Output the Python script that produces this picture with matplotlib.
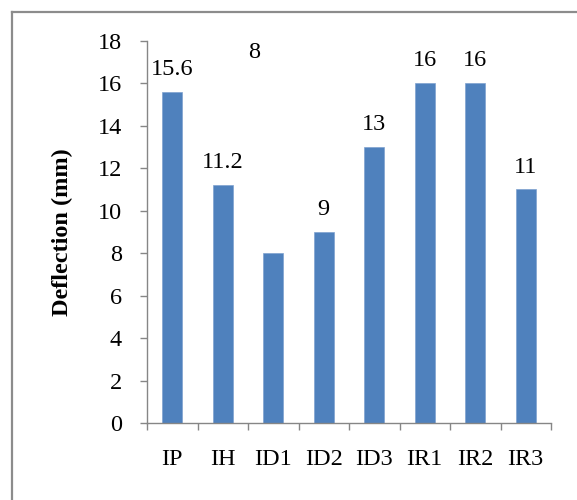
import matplotlib
matplotlib.use("Agg")
import matplotlib.pyplot as plt

categories = ["IP", "IH", "ID1", "ID2", "ID3", "IR1", "IR2", "IR3"]
deflection = [15.6, 11.2, 8, 9, 13, 16, 16, 11]
value_labels = ["15.6", "11.2", "8", "9", "13", "16", "16", "11"]
y_ticks = [0, 2, 4, 6, 8, 10, 12, 14, 16, 18]

plt.rcParams["font.family"] = ["Liberation Serif", "Times New Roman",
                               "FreeSerif", "DejaVu Serif"]

W, H = 577, 500
fig = plt.figure(figsize=(W / 100, H / 100), dpi=100)
fig.patch.set_facecolor("white")

# outer frame (top and left edges visible)
frame_color = "#8c8c8c"
fig.add_artist(plt.Line2D([12 / W, 1.0], [1 - 11.5 / H, 1 - 11.5 / H],
                          transform=fig.transFigure, color=frame_color, lw=1.6))
fig.add_artist(plt.Line2D([12 / W, 12 / W], [0.0, 1 - 11.5 / H],
                          transform=fig.transFigure, color=frame_color, lw=1.6))

ax = fig.add_axes([147 / W, 1 - 423 / H, 404 / W, 382.3 / H])
x = list(range(len(categories)))
bars = ax.bar(x, deflection, width=0.4, color="#4F81BD",
              edgecolor="#7fa2cf", linewidth=0.5, zorder=2)

ax.set_xlim(-0.5, len(categories) - 0.5)
ax.set_ylim(0, 18)

axis_color = "#868686"
for side in ("top", "right"):
    ax.spines[side].set_visible(False)
for side in ("left", "bottom"):
    ax.spines[side].set_color(axis_color)
    ax.spines[side].set_linewidth(1.0)

ax.set_yticks(y_ticks)
ax.set_yticklabels([str(t) for t in y_ticks], fontsize=17.5)
ax.tick_params(axis="y", direction="out", length=5, width=1.0,
               color=axis_color, pad=13)

# category labels at bar centres, tick marks at category boundaries
ax.set_xticks(x)
ax.set_xticklabels(categories, fontsize=17.5)
ax.tick_params(axis="x", which="major", length=0, pad=18.5)
ax.set_xticks([i - 0.5 for i in range(len(categories) + 1)], minor=True)
ax.tick_params(axis="x", which="minor", direction="out", length=5,
               width=1.0, color=axis_color)

ax.set_ylabel("Deflection (mm)", fontsize=17.5, fontweight="bold",
              va="center", ha="center")
ax.yaxis.set_label_coords(-0.21, 0.5)

# value labels
for i, (v, lab) in enumerate(zip(deflection, value_labels)):
    if lab == "8":
        ax.text(1.62, 17.2, lab, fontsize=17.5, ha="center", va="baseline")
        continue
    ax.annotate(lab, (i, v), xytext=(0, 8.5), textcoords="offset points",
                ha="center", va="bottom", fontsize=17.5)

fig.savefig("out.png", dpi=100)
